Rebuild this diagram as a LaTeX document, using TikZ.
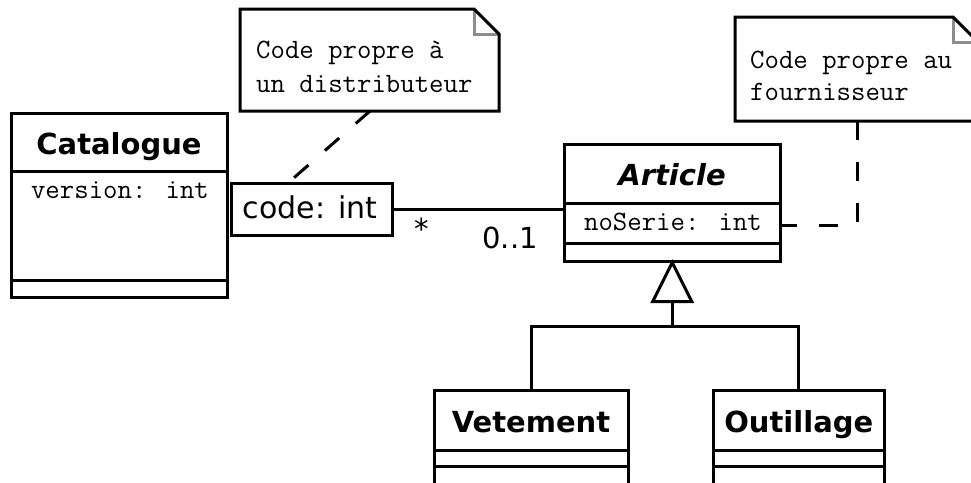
\documentclass[tikz,border=0pt]{standalone}
\usepackage{fontspec}
\setsansfont{DejaVu Sans}
\usetikzlibrary{calc}
\definecolor{foldgray}{HTML}{8C8C8C}
\tikzset{
  cls/.style={draw, line width=3pt, inner sep=0pt, outer sep=0pt, anchor=north west},
  divider/.style={line width=3pt},
  clsname/.style={font=\sffamily\bfseries\fontsize{29}{34}\selectfont, anchor=base, inner sep=0pt},
  attr/.style={font=\ttfamily\fontsize{28}{34}\selectfont, anchor=base, inner sep=0pt},
  notetext/.style={font=\ttfamily\fontsize{28}{34}\selectfont, anchor=base west, inner sep=0pt},
  noteregion/.style={inner sep=0pt, outer sep=0pt, anchor=north west},
  noteframe/.style={draw, line width=3pt, line join=miter},
  fold/.style={draw=foldgray, line width=3pt},
  notelink/.style={line width=3pt, dash pattern=on 19pt off 22pt},
  assoc/.style={line width=3pt},
  lbl/.style={font=\sffamily\fontsize{29}{34}\selectfont, anchor=base, inner sep=0pt},
}
\begin{document}
\begin{tikzpicture}[x=1pt,y=-1pt]
\useasboundingbox (0,0) rectangle (971,482);
\clip (0,0) rectangle (971,482);

% Catalogue
\node[cls, minimum width=215.5pt, minimum height=184pt] (cat) at (11.5,113) {};
\draw[divider] ($(cat.north west)+(0,58)$) -- ($(cat.north east)+(0,58)$);
\draw[divider] ($(cat.north west)+(0,167)$) -- ($(cat.north east)+(0,167)$);
\node[clsname] (catname) at (119,154) {Catalogue};
\node[attr] (catattr) at (120,198) {version: int};

% qualifier
\node[cls, minimum width=161pt, minimum height=52pt, fill=white] (code) at (231,183) {};
\node[lbl, font=\sffamily\fontsize{30}{34}\selectfont] (codetxt) at (310,218) {code: int};

% Article
\node[cls, minimum width=215.5pt, minimum height=117pt] (art) at (564.5,144) {};
\draw[divider] ($(art.north west)+(0,59)$) -- ($(art.north east)+(0,59)$);
\draw[divider] ($(art.north west)+(0,99)$) -- ($(art.north east)+(0,99)$);
\node[clsname, font=\sffamily\bfseries\itshape\fontsize{29}{34}\selectfont] (artname) at (672,185) {Article};
\node[attr] (artattr) at (673,230) {noSerie: int};

% Vetement
\node[cls, minimum width=193.5pt, minimum height=110pt] (vet) at (434.5,390) {};
\draw[divider] ($(vet.north west)+(0,60)$) -- ($(vet.north east)+(0,60)$);
\draw[divider] ($(vet.north west)+(0,76.5)$) -- ($(vet.north east)+(0,76.5)$);
\node[clsname] (vetname) at (531,432) {Vetement};

% Outillage
\node[cls, minimum width=170.5pt, minimum height=110pt] (out) at (713.5,390) {};
\draw[divider] ($(out.north west)+(0,60)$) -- ($(out.north east)+(0,60)$);
\draw[divider] ($(out.north west)+(0,76.5)$) -- ($(out.north east)+(0,76.5)$);
\node[clsname] (outname) at (798.75,432) {Outillage};

% association
\draw[assoc] (code.east) -- (code.east -| art.west);
\node[lbl] (mstar) at (422,239) {*};
\node[lbl] (m01) at (510,248) {0..1};

% generalization
\coordinate (gen) at (672.25,326);
\draw[assoc] (vet.north) |- (gen) -| (out.north);
\draw[assoc] (gen) -- ($(art.south)+(0,40)$);
\draw[assoc, fill=white, line join=miter] ($(art.south)+(0,1.5)$) -- ++(-19.5,39) -- ++(39,0) -- cycle;

% note 1
\node[noteregion, minimum width=259pt, minimum height=102pt] (n1) at (240,9) {};
\fill[white] (n1.north west) -- ($(n1.north east)+(-25,0)$) -- ($(n1.north east)+(0,25)$) -- (n1.south east) -- (n1.south west) -- cycle;
\draw[fold] ($(n1.north east)+(-25,0)$) |- ($(n1.north east)+(0,25)$);
\draw[noteframe] (n1.north west) -- ($(n1.north east)+(-25,0)$) -- ($(n1.north east)+(0,25)$) -- (n1.south east) -- (n1.south west) -- cycle;
\node[notetext] (n1a) at (256,58) {Code propre à};
\node[notetext] (n1b) at (256,92) {un distributeur};
\draw[notelink] ($(n1.south west)+(130,0)$) -- ($(code.north west)+(57,0)$);

% note 2
\node[noteregion, minimum width=243pt, minimum height=104pt] (n2) at (735,17) {};
\fill[white] (n2.north west) -- ($(n2.north east)+(-25,0)$) -- ($(n2.north east)+(0,25)$) -- (n2.south east) -- (n2.south west) -- cycle;
\draw[fold] ($(n2.north east)+(-25,0)$) |- ($(n2.north east)+(0,25)$);
\draw[noteframe] (n2.north west) -- ($(n2.north east)+(-25,0)$) -- ($(n2.north east)+(0,25)$) -- (n2.south east) -- (n2.south west) -- cycle;
\node[notetext] (n2a) at (750,68) {Code propre au};
\node[notetext] (n2b) at (750,100) {fournisseur};
\draw[notelink] ($(n2.south west)+(122,0)$) |- ($(art.north east)+(0,81)$);
\end{tikzpicture}
\end{document}
